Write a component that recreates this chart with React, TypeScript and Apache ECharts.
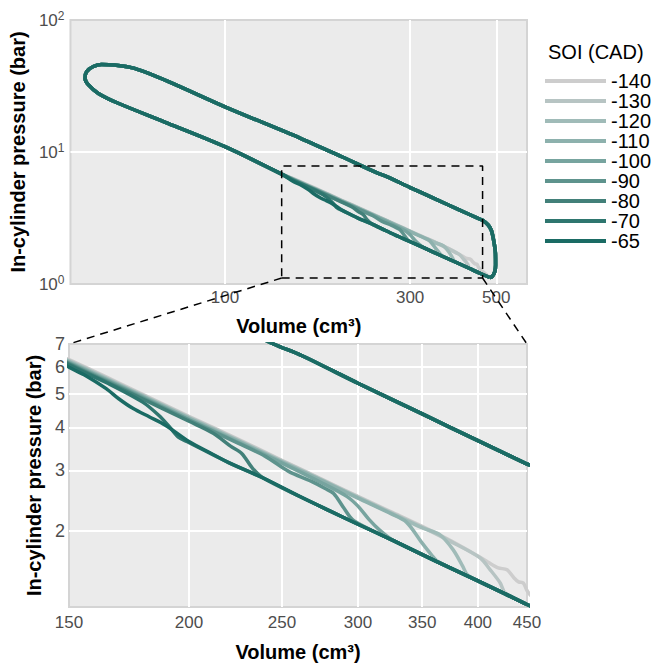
import React, { useEffect, useRef } from 'react';
import * as echarts from 'echarts';

// ---- Data -------------------------------------------------------------
const SOI = ['-140', '-130', '-120', '-110', '-100', '-90', '-80', '-70', '-65'];
const COLORS = ['#cdcdcd', '#b7c4c3', '#a0bbb8', '#8db1ad', '#77a49f', '#5e938d', '#428079', '#2e766f', '#1a6b64'];

// Compression stroke [volume cm3, pressure bar], from BDC towards V = 150, per SOI
const comp140 = [[481, 1.12], [456, 1.28], [450, 1.34], [446, 1.41], [441, 1.42], [436, 1.46], [429, 1.54], [420, 1.56], [410, 1.62], [400, 1.69], [375, 1.87], [350, 2.06], [325, 2.27], [300, 2.52], [275, 2.83], [250, 3.21], [225, 3.70], [200, 4.31], [175, 5.15], [150, 6.30]];
const comp130 = [[481, 1.12], [450, 1.22], [427, 1.32], [422, 1.41], [412, 1.54], [402, 1.67], [375, 1.86], [350, 2.05], [325, 2.26], [300, 2.51], [275, 2.82], [250, 3.20], [225, 3.68], [200, 4.29], [175, 5.12], [150, 6.27]];
const comp120 = [[481, 1.12], [450, 1.22], [427, 1.31], [400, 1.43], [390, 1.49], [386, 1.57], [377, 1.76], [365, 1.95], [350, 2.04], [325, 2.25], [300, 2.50], [275, 2.81], [250, 3.18], [225, 3.66], [200, 4.27], [175, 5.10], [150, 6.24]];
const comp110 = [[481, 1.12], [450, 1.22], [427, 1.31], [400, 1.43], [363, 1.63], [358, 1.70], [349, 1.86], [337, 2.12], [325, 2.24], [300, 2.49], [275, 2.80], [250, 3.17], [225, 3.65], [200, 4.25], [175, 5.08], [150, 6.21]];
const comp100 = [[481, 1.12], [450, 1.22], [427, 1.31], [400, 1.43], [362, 1.63], [326, 1.88], [316, 2.01], [308, 2.16], [300, 2.36], [292, 2.52], [275, 2.76], [250, 3.15], [225, 3.62], [200, 4.22], [175, 5.05], [150, 6.18]];
const comp90 = [[481, 1.12], [450, 1.22], [427, 1.31], [400, 1.43], [362, 1.63], [327, 1.87], [297, 2.14], [290, 2.33], [283, 2.57], [277, 2.66], [268, 2.79], [254, 2.98], [240, 3.30], [225, 3.60], [200, 4.20], [175, 5.02], [150, 6.15]];
const comp80 = [[481, 1.12], [450, 1.22], [427, 1.31], [400, 1.43], [362, 1.63], [327, 1.87], [300, 2.09], [280, 2.29], [260, 2.53], [239, 2.85], [233, 3.04], [227, 3.36], [221, 3.53], [212, 3.85], [200, 4.17], [175, 4.99], [150, 6.12]];
const comp70 = [[481, 1.12], [450, 1.22], [427, 1.31], [400, 1.43], [362, 1.63], [327, 1.87], [300, 2.09], [280, 2.29], [260, 2.53], [239, 2.85], [220, 3.16], [199, 3.64], [195, 3.75], [191, 4.01], [186, 4.34], [179, 4.74], [165, 5.36], [150, 6.08]];
const comp65 = [[481, 1.12], [450, 1.22], [427, 1.31], [400, 1.43], [362, 1.63], [327, 1.87], [300, 2.09], [280, 2.29], [260, 2.53], [239, 2.85], [220, 3.16], [211, 3.36], [200, 3.64], [189, 4.06], [182, 4.29], [175, 4.54], [169, 4.85], [164, 5.19], [156, 5.67], [150, 5.99]];
const COMPRESSION = [comp140, comp130, comp120, comp110, comp100, comp90, comp80, comp70, comp65];

// Rest of the cycle, shared by all SOI (curves coincide there)
const compressionEnd = [[140, 6.8], [100, 10.97], [71.3, 16.5], [53.1, 23.4], [47.2, 27.8], [44.5, 32.2], [43.6, 36.2]];
const combustion = [[44.0, 40.6], [45.8, 44.4], [48.1, 46.1], [52, 45.6], [58.5, 43.0]];
const expansion = [[71.3, 34.3], [100, 22.0], [156.6, 12.7], [200, 9.2], [245, 7.0], [262, 6.48], [300, 5.38], [350, 4.38], [400, 3.66], [449, 3.14], [461, 3.04]];
const blowdown = [[476.6, 2.80], [485.4, 2.56], [492.2, 2.15], [497.5, 1.71], [498, 1.39], [495.5, 1.24], [488, 1.14], [481, 1.12]];

// Zoom window marked on the top panel
const BOX_V = [140, 461];
const BOX_P = [1.11, 7.83];

// Axis ticks
const TOP_X_TICKS = [100, 300, 500];
const TOP_Y_TICKS = [1, 10, 100];
const BOT_X_TICKS = [150, 200, 250, 300, 350, 400, 450];
const BOT_Y_TICKS = [2, 3, 4, 5, 6, 7];
const TOP_X_RANGE = [40, 600];
const TOP_Y_RANGE = [1, 100];
const BOT_X_RANGE = [150, 450];
const BOT_Y_RANGE = [1.2, 7];

// ---- Chart -----------------------------------------------------------
const lg = (v: number) => Math.log10(v);
const FONT = 'Liberation Sans, Arial, Helvetica, sans-serif';
const TICK_COLOR = '#4d4d4d';

export default function App() {
  const ref = useRef<HTMLDivElement>(null);

  useEffect(() => {
    const chart = echarts.init(ref.current!, null, { renderer: 'svg' });

    const cycle = (comp: number[][]) => [...comp, ...compressionEnd, ...combustion, ...expansion, ...blowdown];

    const makeSeries = (g: number) =>
      SOI.map((name, i) => ({
        type: 'line',
        name,
        xAxisIndex: g,
        yAxisIndex: g,
        data: cycle(COMPRESSION[i]).map(([v, p]) => [lg(v), lg(p)]),
        showSymbol: false,
        symbol: 'none',
        smooth: 0.3,
        color: COLORS[i],
        lineStyle: { color: COLORS[i], width: 3.5 },
        silent: true,
        z: 2,
      }));

    const boxData = [
      [BOX_V[0], BOX_P[0]],
      [BOX_V[1], BOX_P[0]],
      [BOX_V[1], BOX_P[1]],
      [BOX_V[0], BOX_P[1]],
      [BOX_V[0], BOX_P[0]],
    ].map(([v, p]) => [lg(v), lg(p)]);

    const roundFmt = (v: number) => String(Math.round(Math.pow(10, v)));
    const inner = (arr: number[], range: number[]) => arr.filter((t) => t > range[0] && t < range[1]).map(lg);

    const nameStyle = { fontSize: 20, fontWeight: 'bold', color: '#000', fontFamily: FONT };

    const option: any = {
      animation: false,
      textStyle: { fontFamily: FONT },
      title: {
        text: 'SOI (CAD)',
        left: 548,
        top: 42,
        padding: 0,
        textStyle: { fontSize: 20, fontWeight: 'normal', color: '#000', fontFamily: FONT },
      },
      legend: {
        data: SOI,
        orient: 'vertical',
        left: 545,
        top: 71,
        padding: 0,
        icon: 'rect',
        itemWidth: 61,
        itemHeight: 4,
        itemGap: 0,
        selectedMode: false,
        textStyle: { fontSize: 20, lineHeight: 20, color: '#000', fontFamily: FONT },
      },
      grid: [
        { left: 69, top: 20, width: 458, height: 264, show: true, backgroundColor: '#ebebeb', borderColor: '#d4d4d4', borderWidth: 2 },
        { left: 69, top: 344, width: 458, height: 263, show: true, backgroundColor: '#ebebeb', borderColor: '#d4d4d4', borderWidth: 2 },
      ],
      xAxis: [
        {
          type: 'value',
          gridIndex: 0,
          min: lg(TOP_X_RANGE[0]),
          max: lg(TOP_X_RANGE[1]),
          axisLine: { show: false },
          axisTick: { show: false, customValues: inner(TOP_X_TICKS, TOP_X_RANGE) },
          splitLine: { show: true, lineStyle: { color: '#ffffff', width: 2 } },
          axisLabel: { customValues: TOP_X_TICKS.map(lg), formatter: roundFmt, fontSize: 17, color: TICK_COLOR, margin: 5 },
          name: 'Volume (cm³)',
          nameLocation: 'middle',
          nameGap: 32,
          nameTextStyle: nameStyle,
        },
        {
          type: 'value',
          gridIndex: 1,
          min: lg(BOT_X_RANGE[0]),
          max: lg(BOT_X_RANGE[1]),
          axisLine: { show: false },
          axisTick: { show: false, customValues: inner(BOT_X_TICKS, BOT_X_RANGE) },
          splitLine: { show: true, lineStyle: { color: '#ffffff', width: 2 } },
          axisLabel: { customValues: BOT_X_TICKS.map(lg), formatter: roundFmt, fontSize: 17, color: TICK_COLOR, margin: 7 },
          name: 'Volume (cm³)',
          nameLocation: 'middle',
          nameGap: 35,
          nameTextStyle: nameStyle,
        },
      ],
      yAxis: [
        {
          type: 'value',
          gridIndex: 0,
          min: lg(TOP_Y_RANGE[0]),
          max: lg(TOP_Y_RANGE[1]),
          axisLine: { show: false },
          axisTick: { show: false, customValues: inner(TOP_Y_TICKS, TOP_Y_RANGE) },
          splitLine: { show: true, lineStyle: { color: '#ffffff', width: 2 } },
          axisLabel: {
            customValues: TOP_Y_TICKS.map(lg),
            formatter: (v: number) => `10{s|${Math.round(v)}}`,
            fontSize: 17,
            color: TICK_COLOR,
            margin: 6,
            rich: { s: { fontSize: 12, color: TICK_COLOR, padding: [0, 0, 9, 0], fontFamily: FONT } },
          },
          name: 'In-cylinder pressure (bar)',
          nameLocation: 'middle',
          nameGap: 32,
          nameTextStyle: nameStyle,
        },
        {
          type: 'value',
          gridIndex: 1,
          min: lg(BOT_Y_RANGE[0]),
          max: lg(BOT_Y_RANGE[1]),
          axisLine: { show: false },
          axisTick: { show: false, customValues: inner(BOT_Y_TICKS, BOT_Y_RANGE) },
          splitLine: { show: true, lineStyle: { color: '#ffffff', width: 2 } },
          axisLabel: { customValues: BOT_Y_TICKS.map(lg), formatter: roundFmt, fontSize: 18, color: TICK_COLOR, margin: 4 },
          name: 'In-cylinder pressure (bar)',
          nameLocation: 'middle',
          nameGap: 12,
          nameTextStyle: nameStyle,
        },
      ],
      series: [
        ...makeSeries(0),
        ...makeSeries(1),
        {
          type: 'line',
          name: 'zoom-box',
          xAxisIndex: 0,
          yAxisIndex: 0,
          data: boxData,
          showSymbol: false,
          symbol: 'none',
          silent: true,
          z: 5,
          lineStyle: { color: '#000', width: 1.5, type: [8, 6] },
        },
      ],
    };

    chart.setOption(option);

    const a1 = chart.convertToPixel({ gridIndex: 0 } as any, [lg(BOX_V[0]), lg(BOX_P[0])]) as number[];
    const a2 = chart.convertToPixel({ gridIndex: 1 } as any, [lg(BOT_X_RANGE[0]), lg(BOT_Y_RANGE[1])]) as number[];
    const b1 = chart.convertToPixel({ gridIndex: 0 } as any, [lg(BOX_V[1]), lg(BOX_P[0])]) as number[];
    const b2 = chart.convertToPixel({ gridIndex: 1 } as any, [lg(BOT_X_RANGE[1]), lg(BOT_Y_RANGE[1])]) as number[];
    const dashStyle = { stroke: '#000', lineWidth: 1.5, lineDash: [8, 6], fill: null };
    chart.setOption({
      graphic: [
        { type: 'line', z: 10, silent: true, shape: { x1: a1[0], y1: a1[1], x2: a2[0], y2: a2[1] }, style: dashStyle },
        { type: 'line', z: 10, silent: true, shape: { x1: b1[0], y1: b1[1], x2: b2[0], y2: b2[1] }, style: dashStyle },
      ],
    });

    return () => chart.dispose();
  }, []);

  return <div ref={ref} style={{ position: 'absolute', left: 0, top: 0, width: 666, height: 665 }} />;
}
